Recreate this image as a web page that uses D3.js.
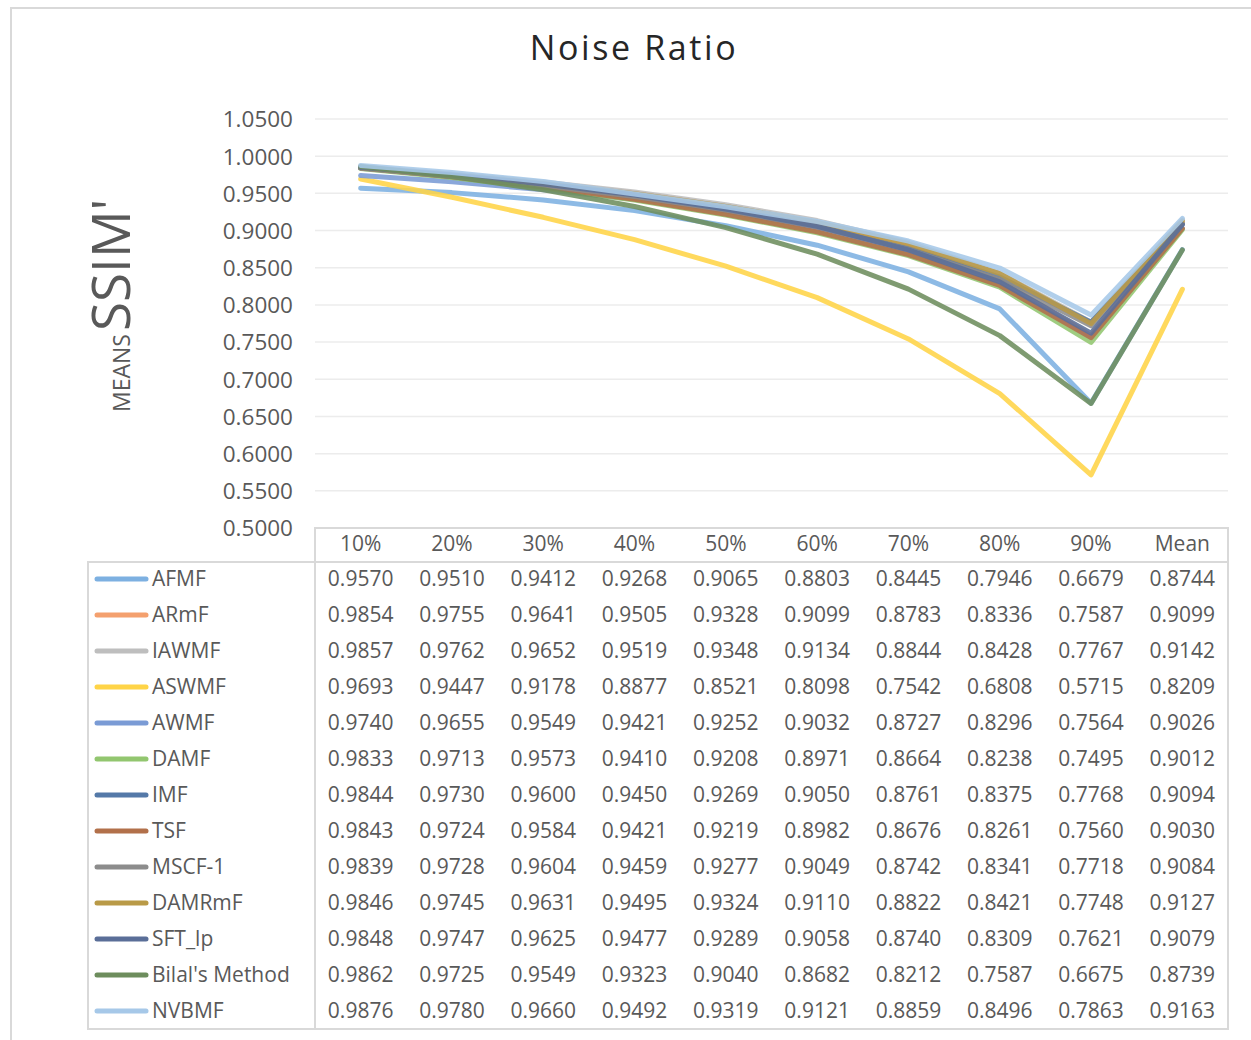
<!DOCTYPE html>
<html>
<head>
<meta charset="utf-8">
<script src="https://cdn.jsdelivr.net/npm/d3@7"></script>
<style>
  html, body { margin: 0; padding: 0; background: #fff; }
  svg { display: block; font-family: "Open Sans", "DejaVu Sans", sans-serif; }
</style>
</head>
<body>
<svg id="chart" width="1251" height="1040"></svg>
<script>
// Noise levels plus the overall mean column
const categories = ["10%", "20%", "30%", "40%", "50%", "60%", "70%", "80%", "90%", "Mean"];

// Filter names, in legend order
const seriesNames = ["AFMF", "ARmF", "IAWMF", "ASWMF", "AWMF", "DAMF", "IMF", "TSF",
  "MSCF-1", "DAMRmF", "SFT_lp", "Bilal's Method", "NVBMF"];

// Mean SSIM' per filter across noise levels
const afmf    = [0.9570, 0.9510, 0.9412, 0.9268, 0.9065, 0.8803, 0.8445, 0.7946, 0.6679, 0.8744];
const armf    = [0.9854, 0.9755, 0.9641, 0.9505, 0.9328, 0.9099, 0.8783, 0.8336, 0.7587, 0.9099];
const iawmf   = [0.9857, 0.9762, 0.9652, 0.9519, 0.9348, 0.9134, 0.8844, 0.8428, 0.7767, 0.9142];
const aswmf   = [0.9693, 0.9447, 0.9178, 0.8877, 0.8521, 0.8098, 0.7542, 0.6808, 0.5715, 0.8209];
const awmf    = [0.9740, 0.9655, 0.9549, 0.9421, 0.9252, 0.9032, 0.8727, 0.8296, 0.7564, 0.9026];
const damf    = [0.9833, 0.9713, 0.9573, 0.9410, 0.9208, 0.8971, 0.8664, 0.8238, 0.7495, 0.9012];
const imf     = [0.9844, 0.9730, 0.9600, 0.9450, 0.9269, 0.9050, 0.8761, 0.8375, 0.7768, 0.9094];
const tsf     = [0.9843, 0.9724, 0.9584, 0.9421, 0.9219, 0.8982, 0.8676, 0.8261, 0.7560, 0.9030];
const mscf1   = [0.9839, 0.9728, 0.9604, 0.9459, 0.9277, 0.9049, 0.8742, 0.8341, 0.7718, 0.9084];
const damrmf  = [0.9846, 0.9745, 0.9631, 0.9495, 0.9324, 0.9110, 0.8822, 0.8421, 0.7748, 0.9127];
const sftlp   = [0.9848, 0.9747, 0.9625, 0.9477, 0.9289, 0.9058, 0.8740, 0.8309, 0.7621, 0.9079];
const bilal   = [0.9862, 0.9725, 0.9549, 0.9323, 0.9040, 0.8682, 0.8212, 0.7587, 0.6675, 0.8739];
const nvbmf   = [0.9876, 0.9780, 0.9660, 0.9492, 0.9319, 0.9121, 0.8859, 0.8496, 0.7863, 0.9163];

const seriesValues = [afmf, armf, iawmf, aswmf, awmf, damf, imf, tsf, mscf1, damrmf, sftlp, bilal, nvbmf];

const seriesColors = ["#7DB0E1", "#F4A06E", "#BEBEBE", "#FFD447", "#7A9BD5", "#92C66F", "#5479A8",
  "#B2704A", "#8C8C8C", "#B99A47", "#5A6E98", "#6D8D5D", "#A6C8E8"];

// Y axis ticks
const yTicks = [0.50, 0.55, 0.60, 0.65, 0.70, 0.75, 0.80, 0.85, 0.90, 0.95, 1.00, 1.05];

const series = seriesNames.map((name, i) => ({ name, values: seriesValues[i], color: seriesColors[i] }));

const svg = d3.select("#chart");
const textColor = "#595959";
const borderColor = "#d9d9d9";

// Plot-area geometry
const plotLeft = 315, plotRight = 1228, plotTop = 119, plotBottom = 528;
const tableLeft = 88, headerBottom = 562, rowHeight = 36, tableBottom = 1029;

const x = d3.scaleBand().domain(categories).range([plotLeft, plotRight]);
const y = d3.scaleLinear().domain([0.5, 1.05]).range([plotBottom, plotTop]);

// Outer chart frame
svg.append("path")
  .attr("d", "M11,1040 L11,8 L1251,8")
  .attr("fill", "none").attr("stroke", borderColor).attr("stroke-width", 2);

// Title
svg.append("text")
  .attr("x", 634).attr("y", 60)
  .attr("text-anchor", "middle")
  .attr("font-size", 34).attr("fill", "#262626")
  .attr("letter-spacing", 2.6)
  .text("Noise Ratio");

// Gridlines
svg.append("g").selectAll("line")
  .data(yTicks.filter(d => d > 0.5))
  .join("line")
  .attr("x1", plotLeft).attr("x2", plotRight)
  .attr("y1", d => y(d)).attr("y2", d => y(d))
  .attr("stroke", "#ececec").attr("stroke-width", 1.5);

// Y axis tick labels
const yAxis = d3.axisLeft(y).tickValues(yTicks).tickFormat(d3.format(".4f")).tickSize(0).tickPadding(22);
const yg = svg.append("g").attr("transform", `translate(${plotLeft},0)`).call(yAxis);
yg.select(".domain").remove();
yg.selectAll("text").attr("font-size", 22.5).attr("fill", textColor)
  .attr("font-family", "'Open Sans', sans-serif").attr("dy", "0.35em");

// Y axis title
const yTitle = svg.append("text")
  .attr("transform", "translate(130,412) rotate(-90)")
  .attr("fill", textColor);
yTitle.append("tspan").attr("font-size", 23).text("MEANS");
yTitle.append("tspan").attr("font-size", 53).attr("dx", 3).text("SSIM'");

// Lines
const line = d3.line()
  .x((d, i) => x(categories[i]) + x.bandwidth() / 2)
  .y(d => y(d));

svg.append("g").selectAll("path")
  .data(series)
  .join("path")
  .attr("d", d => line(d.values))
  .attr("fill", "none")
  .attr("stroke", d => d.color)
  .attr("stroke-width", 5)
  .attr("stroke-opacity", 0.88)
  .attr("stroke-linejoin", "round")
  .attr("stroke-linecap", "round");

// Data table borders
const tb = svg.append("g").attr("fill", "none").attr("stroke", borderColor).attr("stroke-width", 2);
tb.append("path").attr("d",
  `M${plotLeft},${tableBottom} L${plotLeft},${plotBottom} L${plotRight},${plotBottom} L${plotRight},${tableBottom} L${tableLeft},${tableBottom} L${tableLeft},${headerBottom} L${plotRight},${headerBottom}`);

// Header row
svg.append("g").selectAll("text")
  .data(categories)
  .join("text")
  .attr("x", d => x(d) + x.bandwidth() / 2)
  .attr("y", 544)
  .attr("dy", "0.35em")
  .attr("text-anchor", "middle")
  .attr("font-size", 21).attr("fill", textColor)
  .text(d => d);

// Table rows: legend key + values
const rowY = i => headerBottom + 17 + i * rowHeight;
const rows = svg.append("g").selectAll("g")
  .data(series)
  .join("g")
  .attr("transform", (d, i) => `translate(0,${rowY(i)})`);

rows.append("line")
  .attr("x1", 97).attr("x2", 146)
  .attr("y1", 0).attr("y2", 0)
  .attr("stroke", d => d.color)
  .attr("stroke-width", 5)
  .attr("stroke-linecap", "round");

rows.append("text")
  .attr("x", 152).attr("dy", "0.35em")
  .attr("font-size", 21).attr("fill", textColor)
  .text(d => d.name);

rows.selectAll("text.val")
  .data(d => d.values)
  .join("text")
  .attr("class", "val")
  .attr("x", (v, i) => x(categories[i]) + x.bandwidth() / 2)
  .attr("dy", "0.35em")
  .attr("text-anchor", "middle")
  .attr("font-size", 21).attr("fill", textColor)
  .text(v => d3.format(".4f")(v));
</script>
</body>
</html>
